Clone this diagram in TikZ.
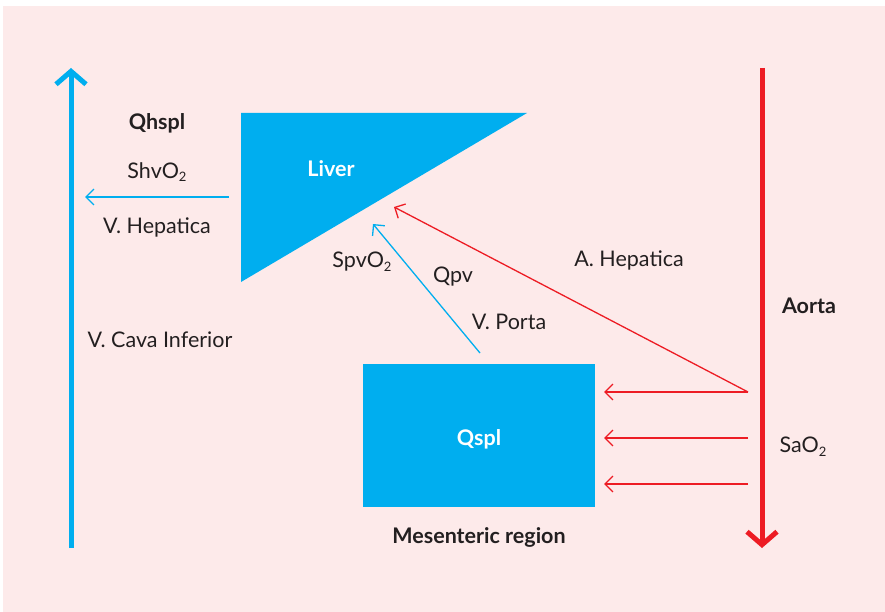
\documentclass[tikz,border=0pt]{standalone}
\usepackage{fontspec}
\setmainfont{Lato}
\usetikzlibrary{arrows.meta}
\definecolor{bgpink}{HTML}{FDEAEA}
\definecolor{cyanb}{HTML}{00AEEF}
\definecolor{redr}{HTML}{ED1C24}
\definecolor{txt}{HTML}{231F20}
\newcommand{\subtwo}{\raisebox{-0.35ex}{\fontsize{13}{14}\selectfont 2}}
\tikzset{
  lbl/.style={text=txt, font=\fontsize{21.5}{24}\selectfont, inner sep=0pt},
  blbl/.style={lbl, font=\fontsize{21.5}{24}\selectfont\bfseries},
  wlbl/.style={text=white, font=\fontsize{21.5}{24}\selectfont\bfseries, inner sep=0pt},
  bigarrow/.style={line width=5pt, -{Straight Barb[length=13pt,width=30pt,line width=5pt]}},
  thinarrow/.style={line width=1.3pt, -{Straight Barb[length=8pt,width=16pt,line width=1.3pt]}},
}
\begin{document}
\begin{tikzpicture}[x=1pt,y=-1pt]
\useasboundingbox (0,0) rectangle (885,612);
\fill[bgpink] (3,6) rectangle (885,612);
% big vertical arrows
\coordinate (vcb) at (71,548);
\coordinate (vct) at (71,68);
\draw[bigarrow, draw=cyanb] (vcb) -- (vct);
\coordinate (aot) at (762,68);
\coordinate (aob) at (762,548);
\draw[bigarrow, draw=redr] (aot) -- (aob);
% liver
\fill[cyanb] (241,113) coordinate (l1) -- (527,113) coordinate (l2) -- (241,282) coordinate (l3) -- cycle;
\node[wlbl] (liver) at (331,169) {Liver};
% mesenteric
\node[fill=cyanb, minimum width=232pt, minimum height=143pt, inner sep=0pt] (qspl) at (479,435.5) {};
\node[wlbl] (qspltxt) at (479,439) {Qspl};
\node[blbl] (mes) at (479,537) {Mesenteric region};
% labels
\node[blbl] (qhspl) at (157,123) {Qhspl};
\node[lbl] (shv) at (157,172) {ShvO\subtwo};
\node[lbl] (vhep) at (157,227) {V. Hepatica};
\node[lbl] (vci) at (160,340) {V. Cava Inferior};
\node[lbl] (spv) at (362,262) {SpvO\subtwo};
\node[lbl] (qpv) at (453,277) {Qpv};
\node[lbl] (vp) at (509,322) {V. Porta};
\node[lbl] (ahep) at (629,260) {A. Hepatica};
\node[blbl] (aorta) at (809,306) {Aorta};
\node[lbl] (sao) at (803,447) {SaO\subtwo};
% thin arrows
\coordinate (hvs) at (229,197);
\coordinate (hve) at (85,197);
\draw[thinarrow, draw=cyanb] (hvs) -- (hve);
\coordinate (vps) at (480,353);
\coordinate (vpe) at (373,224);
\draw[thinarrow, draw=cyanb] (vps) -- (vpe);
\coordinate (ahs) at (748,392);
\coordinate (ahe) at (394,207);
\draw[thinarrow, draw=redr] (ahs) -- (ahe);
\coordinate (r1s) at (748,392);
\coordinate (r1e) at (604,392);
\coordinate (r2s) at (748,438);
\coordinate (r2e) at (604,438);
\coordinate (r3s) at (748,484);
\coordinate (r3e) at (604,484);
\draw[thinarrow, draw=redr] (r1s) -- (r1e);
\draw[thinarrow, draw=redr] (r2s) -- (r2e);
\draw[thinarrow, draw=redr] (r3s) -- (r3e);
\end{tikzpicture}
\end{document}
